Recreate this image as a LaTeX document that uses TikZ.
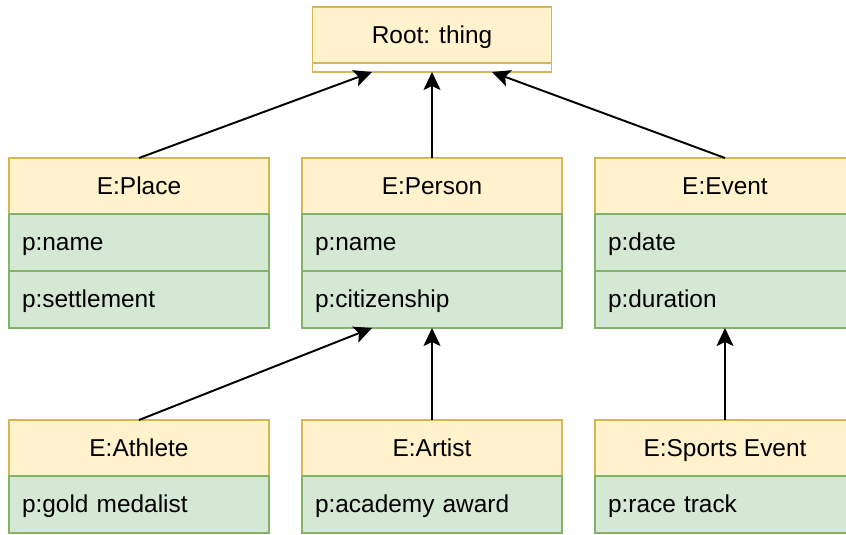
\documentclass[tikz,border=0pt]{standalone}
\usepackage{fontspec}
\setmainfont{Liberation Sans}
\usetikzlibrary{positioning,arrows.meta}
\definecolor{headfill}{HTML}{FFF2CC}
\definecolor{headline}{HTML}{D6B656}
\definecolor{rowfill}{HTML}{D5E8D4}
\definecolor{rowline}{HTML}{82B366}
\tikzset{>={Stealth[length=0.36cm,width=0.34cm,inset=0.08cm]}}
\tikzset{
  head/.style={draw=headline,fill=headfill,line width=0.9pt,minimum width=5.2cm,minimum height=1.12cm,text height=1.1em,text depth=0.15em,inner sep=0pt,outer sep=0pt},
  attr/.style={draw=rowline,fill=rowfill,line width=0.9pt,minimum width=5.2cm,minimum height=1.14cm,text width=4.68cm,text height=1.1em,text depth=0.15em,inner xsep=0.26cm,inner ysep=0pt,align=left,outer sep=0pt},
  link/.style={->,line width=1.1pt}
}

\begin{document}
\begin{tikzpicture}[font=\fontsize{13.9pt}{16pt}\selectfont]
            \useasboundingbox (0,0) rectangle (16.92,-10.68);
            % root
            \node[head,minimum width=4.78cm] (root) at (8.64,-0.70){Root: thing};
            \node[head,fill=white,minimum width=4.78cm,minimum height=0.18cm,text height=0pt,text depth=0pt,below=0pt of root] (rootfoot){};
            % middle row
            \node[head] (place) at (2.78,-3.72){E:Place};
            \node[attr,below=0pt of place] (placeA){p:name};
            \node[attr,below=0pt of placeA] (placeB){p:settlement};
            \node[head] (person) at (8.64,-3.72){E:Person};
            \node[attr,below=0pt of person] (personA){p:name};
            \node[attr,below=0pt of personA] (personB){p:citizenship};
            \node[head] (event) at (14.5,-3.72){E:Event};
            \node[attr,below=0pt of event] (eventA){p:date};
            \node[attr,below=0pt of eventA] (eventB){p:duration};
            % bottom row
            \node[head] (athlete) at (2.78,-8.96){E:Athlete};
            \node[attr,below=0pt of athlete] (athleteA){p:gold medalist};
            \node[head] (artist) at (8.64,-8.96){E:Artist};
            \node[attr,below=0pt of artist] (artistA){p:academy award};
            \node[head] (sports) at (14.5,-8.96){E:Sports Event};
            \node[attr,below=0pt of sports] (sportsA){p:race track};
            % inheritance
            \draw[link] (place.north) -- ([xshift=-1.2cm]rootfoot.south);
            \draw[link] (person.north) -- (rootfoot.south);
            \draw[link] (event.north) -- ([xshift=1.2cm]rootfoot.south);
            \draw[link] (athlete.north) -- ([xshift=-1.2cm]personB.south);
            \draw[link] (artist.north) -- (personB.south);
            \draw[link] (sports.north) -- (eventB.south);
        \end{tikzpicture}
\end{document}
